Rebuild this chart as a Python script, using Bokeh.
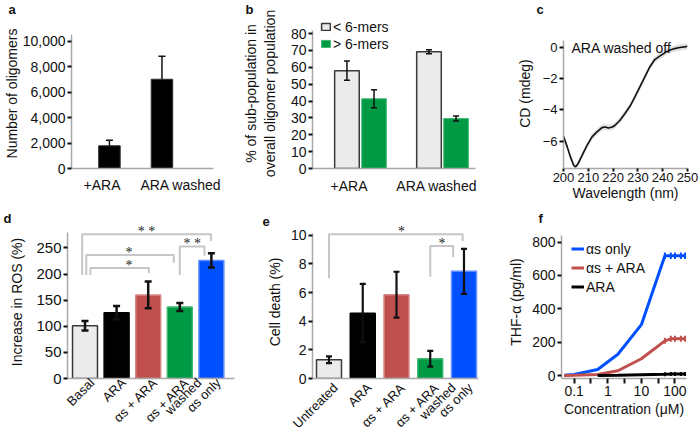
import math
from bokeh.plotting import figure
from bokeh.layouts import row, column
from bokeh.models import (Range1d, FixedTicker, NumeralTickFormatter, Whisker, TeeHead,
                          ColumnDataSource, Label, Legend, LegendItem)
from bokeh.embed import file_html
from bokeh.resources import INLINE

FONT = "Liberation Sans"
INK = "#111111"
AXIS_GREY = "#a8a8a8"
BRACKET_GREY = "#c6c6c6"
NAN = float("nan")

# ---------------- data ----------------
# a: number of oligomers
a_categories = ["+ARA", "ARA washed"]
a_values = [1790, 7030]
a_errors = [440, 1810]
a_yticks = [0, 2000, 4000, 6000, 8000, 10000]

# b: oligomer sub-populations
b_groups = ["+ARA", "ARA washed"]
b_series = ["< 6-mers", "> 6-mers"]
b_small = [58.0, 69.2]
b_small_err = [5.7, 1.2]
b_large = [41.3, 29.6]
b_large_err = [5.3, 1.5]
b_yticks = [0, 10, 20, 30, 40, 50, 60, 70, 80]

# c: CD spectrum, ARA washed off
c_wavelength = [200, 201.5, 202.8, 204.1, 204.8, 205.9, 207.5, 209.5, 211.5, 213.5,
                215.5, 216.8, 218.1, 219.7, 220.8, 222.8, 224.8, 226.8, 228.8, 230.8,
                232.8, 234.8, 236.8, 238.8, 240.8, 242.8, 244.8, 246.8, 248.8, 250]
c_cd = [-5.68, -6.36, -7.0, -7.53, -7.64, -7.43, -6.9, -6.26, -5.72, -5.4,
        -5.13, -5.09, -5.15, -5.09, -4.98, -4.66, -4.23, -3.77, -3.17, -2.53,
        -1.89, -1.26, -0.79, -0.57, -0.36, -0.19, -0.09, -0.02, 0.02, 0.06]
c_sd = 0.2
c_xticks = [200, 210, 220, 230, 240, 250]
c_yticks = [-6, -4, -2, 0]

# d: ROS increase
d_categories = ["Basal", "ARA", "αs + ARA", "αs + ARA\nwashed", "αs only"]
d_values = [101, 126, 160, 137, 226]
d_errors = [9, 12.6, 25.5, 7.7, 13.6]
d_yticks = [0, 50, 100, 150, 200, 250]
# significance brackets: (left, right, stars)
d_pairs = [("Basal", "αs only", "* *"), ("Basal", "αs + ARA\nwashed", "*"),
           ("Basal", "αs + ARA", "*"), ("αs + ARA\nwashed", "αs only", "* *")]
d_pair_top = [276, 236.4, 211.4, 252.5]
d_pair_feet = [(198, 263), (198, 221.5), (198, 202), (198, 235)]
d_pair_shift = [(-0.09, -0.01), (0.04, -0.19), (0.17, 0.02), (0.0, -0.22)]
d_star_x = [1.95, 1.39, 1.39, 3.39]

# e: cell death
e_categories = ["Untreated", "ARA", "αs + ARA", "αs + ARA\nwashed", "αs only"]
e_values = [1.31, 4.56, 5.85, 1.38, 7.48]
e_errors = [0.23, 2.04, 1.6, 0.55, 1.57]
e_yticks = [0, 2, 4, 6, 8, 10]
e_pairs = [("Untreated", "αs only", "*"), ("αs + ARA\nwashed", "αs only", "*")]
e_pair_top = [10.07, 9.25]
e_pair_feet = [(6.99, 9.59), (7.1, 8.46)]
e_pair_shift = [(0.0, -0.04), (0.0, -0.32)]
e_star_x = [2.15, 3.35]

# f: TNF release
f_concentration = [0.05, 0.1, 0.5, 2, 10, 50, 75, 100, 150, 200]
f_as_only = [2, 7, 36, 128, 305, 718, 718, 718, 718, 718]
f_as_ara = [0, 2, 7, 29, 101, 208, 220, 220, 220, 220]
f_ara = [NAN, NAN, 0, 2, 5, 8, 9, 10, 10, 10]
f_as_only_err = [0, 0, 0, 0, 0, 20, 20, 20, 20, 20]
f_as_ara_err = [0, 0, 0, 0, 0, 18, 18, 18, 18, 18]
f_ara_err = [0, 0, 0, 0, 0, 12, 12, 12, 12, 12]
f_series = ["αs only", "αs + ARA", "ARA"]
f_xticks = [0.1, 1, 10, 100]
f_minor = [0.316, 3.16, 31.6]
f_yticks = [0, 200, 400, 600, 800]

# colours
GREY_FILL, GREY_LINE = "#ebebeb", "#3a3a3a"
GREEN, GREEN_LINE = "#009a44", "#3fb872"
RED, RED_LINE = "#c0504d", "#d68886"
BLUE, BLUE_LINE = "#0050ff", "#5f8dff"
BLACK = "#000000"
d_fill = [GREY_FILL, BLACK, RED, GREEN, BLUE]
d_line = [GREY_LINE, BLACK, RED_LINE, GREEN_LINE, BLUE_LINE]
f_colors = [BLUE, RED, BLACK]


# ---------------- helpers ----------------
class Spec:
    """Planned page geometry of one panel (figure box + frame box) and its ranges."""
    def __init__(self, fx, fy, w, h, L, R, T, B, xr, yr, xlog=False):
        self.fx, self.fy, self.w, self.h = fx, fy, w, h
        self.L, self.R, self.T, self.B = L, R, T, B
        self.xr, self.yr, self.xlog = xr, yr, xlog

    def x(self, px):
        f = (px - self.L) / (self.R - self.L)
        if self.xlog:
            a, b = math.log10(self.xr[0]), math.log10(self.xr[1])
            return 10 ** (a + f * (b - a))
        return self.xr[0] + f * (self.xr[1] - self.xr[0])

    def y(self, py):
        return self.yr[0] + (self.B - py) / (self.B - self.T) * (self.yr[1] - self.yr[0])

    def dx(self, dpx):
        return dpx * (self.xr[1] - self.xr[0]) / (self.R - self.L)

    def dy(self, dpx):
        return dpx * (self.yr[1] - self.yr[0]) / (self.B - self.T)


def make_fig(s, letter, letter_px, valign):
    p = figure(width=s.w, height=s.h,
               x_range=Range1d(*s.xr), y_range=Range1d(*s.yr),
               x_axis_type="log" if s.xlog else "linear",
               output_backend="svg", toolbar_location=None, tools="",
               min_border_left=s.L - s.fx, min_border_right=s.fx + s.w - s.R,
               min_border_top=s.T - s.fy, min_border_bottom=s.fy + s.h - s.B)
    p.outline_line_color = None
    p.grid.visible = False
    p.background_fill_color = "white"
    p.border_fill_color = "white"
    # panel letter as the plot title
    p.title.text = letter
    p.title.align = "left"
    p.title.offset = letter_px - s.L
    p.title.standoff = 0
    p.title.vertical_align = valign
    p.title.text_font = FONT
    p.title.text_font_size = "13px"
    p.title.text_font_style = "bold"
    p.title.text_color = INK
    for ax in (p.xaxis[0], p.yaxis[0]):
        ax.axis_line_color = AXIS_GREY
        ax.axis_line_width = 1.5
        ax.major_tick_line_color = INK
        ax.major_tick_line_width = 2
        ax.major_tick_out = 4
        ax.major_tick_in = 0
        ax.minor_tick_line_color = None
        ax.major_label_standoff = 2
        ax.major_label_text_font = FONT
        ax.major_label_text_font_size = "14px"
        ax.major_label_text_color = INK
        ax.axis_label_text_font = FONT
        ax.axis_label_text_font_size = "14px"
        ax.axis_label_text_font_style = "normal"
        ax.axis_label_text_color = INK
    return p


def whiskers(p, xs, vals, errs, width, head, lower=True):
    src = ColumnDataSource(dict(x=xs, upper=[v + e for v, e in zip(vals, errs)],
                                lower=[v - e if lower else v for v, e in zip(vals, errs)]))
    w = Whisker(source=src, base="x", upper="upper", lower="lower", level="annotation",
                line_color=INK, line_width=width,
                upper_head=TeeHead(size=head, line_color=INK, line_width=width),
                lower_head=TeeHead(size=head, line_color=INK, line_width=width) if lower else None)
    p.add_layout(w)


def brackets(p, s, cats, pairs, tops, feet, shifts, star_x, font_size):
    xs, ys = [], []
    for (lc, rc, _), top, (fl, fr), (sl, sr) in zip(pairs, tops, feet, shifts):
        xl = cats.index(lc) + sl
        xr = cats.index(rc) + sr
        xs.append([xl, xl, xr, xr])
        ys.append([fl, top, top, fr])
    p.multi_line(xs=xs, ys=ys, line_color=BRACKET_GREY, line_width=2)
    p.text(x=star_x, y=[t + s.dy(3) for t in tops], text=[pr[2] for pr in pairs],
           text_font=FONT, text_font_size=font_size, text_color="#222222",
           text_align="center", text_baseline="middle")


def category_axis(p, s, cats, shift_px, line_step_px, standoff):
    """Rotated category names on the x axis; a second text line sits one step further right."""
    ticks, names = [], {}
    for i, cat in enumerate(cats):
        for k, part in enumerate(cat.split("\n")):
            t = i + s.dx(shift_px + k * line_step_px)
            ticks.append(t)
            names[t] = part
    p.xaxis.ticker = FixedTicker(ticks=ticks)
    p.xaxis.major_label_overrides = names
    p.xaxis.major_label_orientation = math.pi / 4
    p.xaxis.major_label_text_font_size = "13px"
    p.xaxis.major_label_standoff = standoff
    p.xaxis.major_tick_out = 0
    p.xaxis.major_tick_line_color = None


# ---------------- panel a ----------------
sa = Spec(0, 0, 238, 208, 67, 213, 18, 168, (-0.722, 1.981), (0, 11811))
pa = make_fig(sa, "a", 4, "top")
a_x = list(range(len(a_categories)))
pa.vbar(x=a_x, top=a_values, width=0.41, fill_color=BLACK, line_color="#333333", line_width=1)
whiskers(pa, a_x, a_values, a_errors, 1.5, 7, lower=False)
pa.yaxis.ticker = FixedTicker(ticks=a_yticks)
pa.yaxis.formatter = NumeralTickFormatter(format="0,0")
pa.yaxis.bounds = (0, 10550)
pa.yaxis.axis_label = "Number of oligomers"
pa.yaxis.axis_label_standoff = 0
a_label_pos = [-0.14, 1.36]
pa.xaxis.ticker = FixedTicker(ticks=a_label_pos)
pa.xaxis.major_label_overrides = {a_label_pos[i]: c for i, c in enumerate(a_categories)}
pa.xaxis.major_tick_out = 0
pa.xaxis.major_tick_line_color = None
pa.xaxis.major_label_standoff = 8

# ---------------- panel b ----------------
sb = Spec(238, 0, 249, 208, 312, 475, 18, 168, (-0.585, 1.402), (0, 88.9))
pb = make_fig(sb, "b", 245, "top")
b_x = list(range(len(b_groups)))
b_dodge = 0.165
b_x_small = [x - b_dodge for x in b_x]
b_x_large = [x + b_dodge for x in b_x]
rb1 = pb.vbar(x=b_x_small, top=b_small, width=0.3, fill_color=GREY_FILL, line_color=GREY_LINE, line_width=1.5)
rb2 = pb.vbar(x=b_x_large, top=b_large, width=0.3, fill_color=GREEN, line_color=GREEN_LINE, line_width=1)
whiskers(pb, b_x_small, b_small, b_small_err, 1.5, 6)
whiskers(pb, b_x_large, b_large, b_large_err, 1.5, 6)
pb.yaxis.ticker = FixedTicker(ticks=b_yticks)
pb.yaxis.bounds = (0, 81.5)
pb.yaxis.axis_label = "% of sub-population in\noverall oligomer population"
pb.yaxis.axis_label_standoff = 10
b_label_pos = [-0.14, 0.93]
pb.xaxis.ticker = FixedTicker(ticks=b_label_pos)
pb.xaxis.major_label_overrides = {b_label_pos[i]: g for i, g in enumerate(b_groups)}
pb.xaxis.major_tick_out = 0
pb.xaxis.major_tick_line_color = None
pb.xaxis.major_label_standoff = 9
leg_b = Legend(items=[LegendItem(label=b_series[0], renderers=[rb1]),
                      LegendItem(label=b_series[1], renderers=[rb2])],
               location=(8, 116), orientation="vertical", glyph_width=11, glyph_height=9,
               label_height=17, label_standoff=2, spacing=0, padding=0, margin=0,
               border_line_alpha=0, background_fill_alpha=0,
               label_text_font=FONT, label_text_font_size="14px", label_text_color=INK)
pb.add_layout(leg_b)

# ---------------- panel c ----------------
sc = Spec(487, 0, 213, 208, 563, 687, 18, 168, (200, 250), (-7.74, 1.83))
pc = make_fig(sc, "c", 536, "top")
pc.varea(x=c_wavelength, y1=[v - c_sd for v in c_cd], y2=[v + c_sd for v in c_cd],
         fill_color="#e2e2e2")
pc.line(x=c_wavelength, y=c_cd, line_color=INK, line_width=1.6)
pc.xaxis.ticker = FixedTicker(ticks=c_xticks)
pc.yaxis.ticker = FixedTicker(ticks=c_yticks)
pc.yaxis.bounds = (-7.74, 0.45)
pc.xaxis.major_label_text_font_size = "13px"
pc.yaxis.major_label_text_font_size = "13px"
pc.xaxis.major_tick_out = 3
pc.xaxis.major_label_standoff = 1
pc.xaxis.axis_label = "Wavelength (nm)"
pc.xaxis.axis_label_standoff = 0
pc.yaxis.axis_label = "CD (mdeg)"
pc.yaxis.axis_label_standoff = 7
pc.add_layout(Label(x=sc.x(571), y=sc.y(47), text="ARA washed off", text_font=FONT,
                    text_font_size="14px", text_color=INK, text_baseline="alphabetic"))

# ---------------- panel d ----------------
sd = Spec(0, 208, 262, 231, 67, 234, 224, 381, (-0.554, 4.731), (0, 292.9))
pd_ = make_fig(sd, "d", 3, "bottom")
d_x = list(range(len(d_categories)))
pd_.vbar(x=d_x, top=d_values, width=0.79, fill_color=d_fill, line_color=d_line, line_width=1.5)
whiskers(pd_, d_x, d_values, d_errors, 2.5, 7)
pd_.yaxis.ticker = FixedTicker(ticks=d_yticks)
pd_.yaxis.bounds = (0, 279)
pd_.yaxis.axis_label = "Increase in ROS (%)"
pd_.yaxis.axis_label_standoff = 8
pd_.yaxis.major_label_text_font_size = "15px"
category_axis(pd_, sd, d_categories, 7, 12.3, 2)
brackets(pd_, sd, d_categories, d_pairs, d_pair_top, d_pair_feet, d_pair_shift, d_star_x, "14px")

# ---------------- panel e ----------------
se = Spec(262, 208, 243, 231, 312, 478, 224, 381, (-0.489, 4.43), (0, 10.68))
pe = make_fig(se, "e", 262, "bottom")
e_x = list(range(len(e_categories)))
pe.vbar(x=e_x, top=e_values, width=0.74, fill_color=d_fill, line_color=d_line, line_width=1.5)
whiskers(pe, e_x, e_values, e_errors, 2.2, 6)
pe.yaxis.ticker = FixedTicker(ticks=e_yticks)
pe.yaxis.bounds = (0, 10.1)
pe.yaxis.axis_label = "Cell death (%)"
pe.yaxis.axis_label_standoff = 5
category_axis(pe, se, e_categories, 6.5, 16.7, 7)
brackets(pe, se, e_categories, e_pairs, e_pair_top, e_pair_feet, e_pair_shift, e_star_x, "14px")

# ---------------- panel f ----------------
sf = Spec(505, 208, 195, 231, 560, 686, 224, 381, (0.042, 220), (-17.5, 899), xlog=True)
pf = make_fig(sf, "f", 537, "bottom")
f_vals = [f_as_only, f_as_ara, f_ara]
f_errs = [f_as_only_err, f_as_ara_err, f_ara_err]
f_lines = []
for vals, errs, col in zip(f_vals, f_errs, f_colors):
    r = pf.line(x=f_concentration, y=vals, line_color=col, line_width=3)
    f_lines.append(r)
    xs = [c for c, e in zip(f_concentration, errs) if e > 0]
    vs = [v for v, e in zip(vals, errs) if e > 0]
    es = [e for e in errs if e > 0]
    pf.segment(x0=xs, y0=[v - e for v, e in zip(vs, es)], x1=xs,
               y1=[v + e for v, e in zip(vs, es)], line_color=col, line_width=2)
pf.xaxis.ticker = FixedTicker(ticks=f_xticks, minor_ticks=f_minor)
pf.xaxis.major_label_overrides = {0.1: "0.1", 1: "1", 10: "10", 100: "100"}
pf.xaxis.major_tick_out = 5
pf.xaxis.minor_tick_line_color = INK
pf.xaxis.minor_tick_line_width = 2
pf.xaxis.minor_tick_out = 5
pf.xaxis.minor_tick_in = 0
pf.xaxis.axis_label = "Concentration (μM)"
pf.xaxis.axis_label_standoff = 2
pf.yaxis.ticker = FixedTicker(ticks=f_yticks)
pf.yaxis.bounds = (-17.5, 840)
pf.yaxis.axis_label = "THF-α (pg/ml)"
pf.yaxis.axis_label_standoff = 5
leg_f = Legend(items=[LegendItem(label=lab, renderers=[r]) for lab, r in zip(f_series, f_lines)],
               location=(10, 82), orientation="vertical", glyph_width=13, glyph_height=19,
               label_height=19, label_standoff=2, spacing=0, padding=0, margin=0,
               border_line_alpha=0, background_fill_alpha=0,
               label_text_font=FONT, label_text_font_size="14px", label_text_color=INK)
pf.add_layout(leg_f)

layout = column(row(pa, pb, pc), row(pd_, pe, pf))
open("out.html", "w").write(file_html(layout, INLINE))
